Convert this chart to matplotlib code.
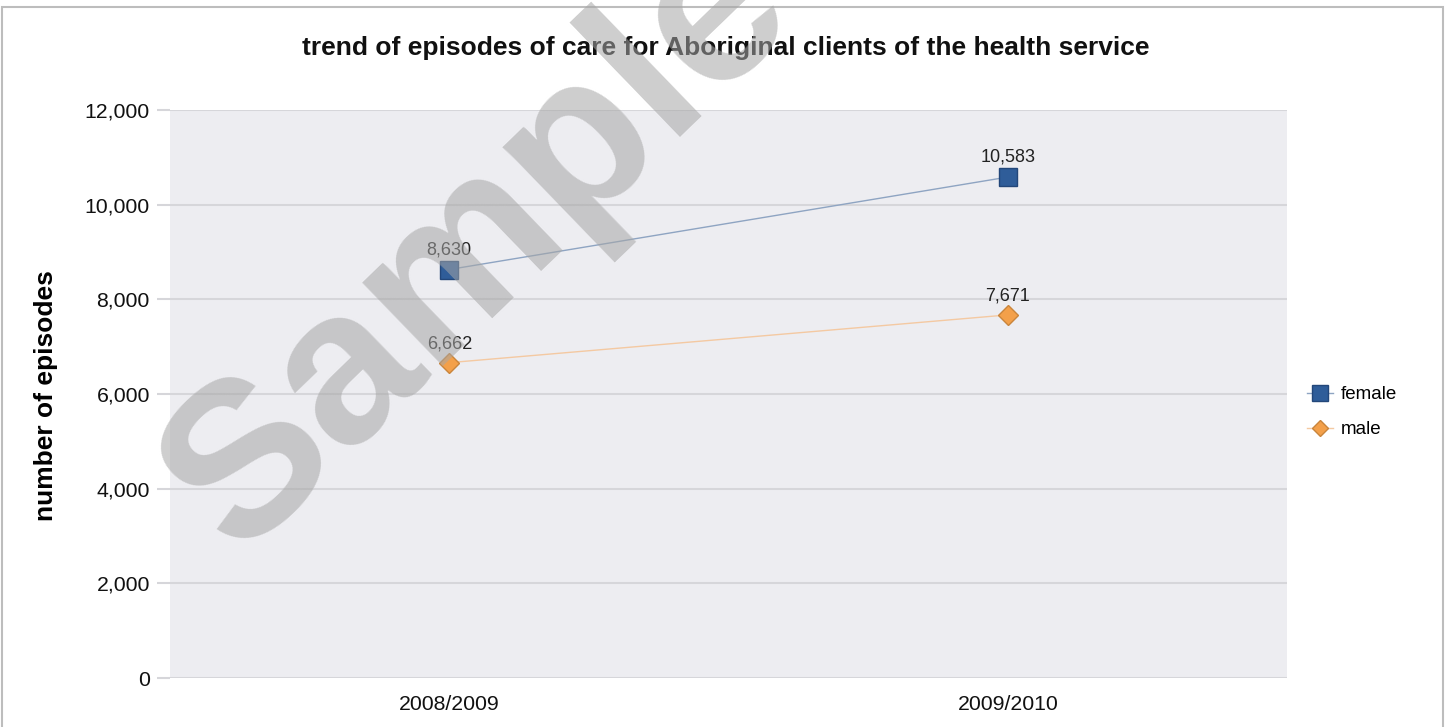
#!/usr/bin/env python3
"""Trend of episodes of care for Aboriginal clients (line chart with watermark)."""

import matplotlib
matplotlib.use("Agg")
import matplotlib.pyplot as plt
import matplotlib.ticker as mticker
from matplotlib.patches import Rectangle

YEARS = ["2008/2009", "2009/2010"]
FEMALE = [8630, 10583]
MALE = [6662, 7671]
Y_TICKS = [0, 2000, 4000, 6000, 8000, 10000, 12000]

plt.rcParams["font.family"] = ["Liberation Sans", "DejaVu Sans"]

fig = plt.figure(figsize=(14.53, 7.27), dpi=100)
ax = fig.add_axes([170 / 1453, 1 - 678 / 727, (1287 - 170) / 1453, (678 - 110) / 727])
ax.set_facecolor("#ededf1")

x = list(range(len(YEARS)))
ax.plot(x, FEMALE, color="#8ea4c2", linewidth=1.0, marker="s", markersize=13,
        markerfacecolor="#2f5d99", markeredgecolor="#23477a", markeredgewidth=1.0,
        label="female", zorder=3)
ax.plot(x, MALE, color="#f4c9a2", linewidth=1.0, marker="D", markersize=10,
        markerfacecolor="#f3a04a", markeredgecolor="#c9853c", markeredgewidth=1.0,
        label="male", zorder=3)

for xi, v in zip(x, FEMALE):
    ax.annotate(f"{v:,}", (xi, v), xytext=(0, 8), textcoords="offset points",
                ha="center", va="bottom", fontsize=13, color="#222222")
for xi, v in zip(x, MALE):
    ax.annotate(f"{v:,}", (xi, v), xytext=(0, 7.5), textcoords="offset points",
                ha="center", va="bottom", fontsize=13, color="#222222")

ax.set_xlim(-0.5, 1.5)
ax.set_ylim(0, 12000)
ax.set_xticks(x)
ax.set_xticklabels(YEARS)
ax.set_yticks(Y_TICKS)
ax.yaxis.set_major_formatter(mticker.FuncFormatter(lambda v, p: f"{int(v):,}"))
ax.tick_params(axis="y", length=9.5, color="#d6d6da", width=1.5, pad=5, labelsize=15.3, labelcolor="#111111")
ax.tick_params(axis="x", length=0, pad=12, labelsize=15.3, labelcolor="#111111")
ax.grid(True, axis="y", color="#d6d6da", linewidth=1.5)
ax.set_axisbelow(True)
for s in ax.spines.values():
    s.set_visible(False)

ax.set_ylabel("number of episodes", fontsize=19, fontweight="bold")
ax.yaxis.set_label_coords(-0.100, 0.498)

fig.text(726 / 1453, 1 - 48 / 727, "trend of episodes of care for Aboriginal clients of the health service",
         ha="center", va="center", fontsize=19, fontweight="bold", color="#111111")

ax.legend(loc="center left", bbox_to_anchor=(1.003, 0.468), frameon=False, fontsize=13.5,
          handlelength=1.4, handletextpad=0.4, labelspacing=0.95, numpoints=1,
          markerscale=0.85)

# figure border
fig.add_artist(Rectangle((2 / 1453, -0.05), (1443 - 2) / 1453, 1.05 - 7 / 727,
                         transform=fig.transFigure, fill=False, edgecolor="#bdbdbd",
                         linewidth=1.5, clip_on=False))

# watermark
fig.text(480 / 1453, 1 - 245 / 727, "Sample", ha="center", va="center", rotation=44,
         fontsize=158, fontweight="bold", color="#a6a6a6", alpha=0.55, zorder=10)

fig.savefig("out.png", dpi=100)
